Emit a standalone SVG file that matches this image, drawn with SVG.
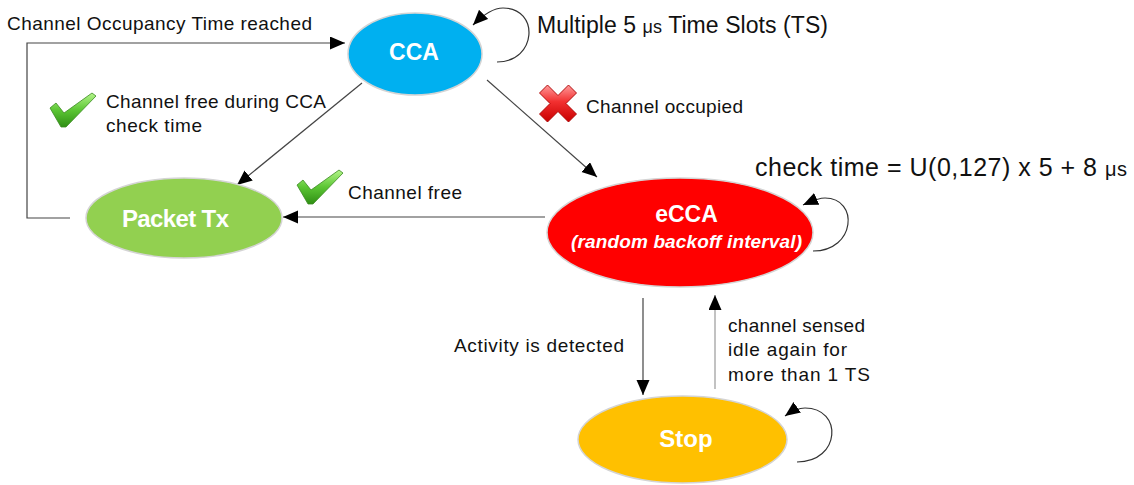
<svg xmlns="http://www.w3.org/2000/svg" xmlns:xlink="http://www.w3.org/1999/xlink" width="1134" height="485" viewBox="0 0 1134 485">
<style>
.lbl{font-family:"Liberation Sans",Arial,sans-serif;font-size:19px;fill:#111}
.big{font-family:"Liberation Sans",Arial,sans-serif;fill:#111}
.node{stroke:#d4d4d4;stroke-width:1.5}
.ntxt{font-family:"Liberation Sans",Arial,sans-serif;font-weight:bold;fill:#fff;text-anchor:middle}
.edge{fill:none;stroke:#444;stroke-width:1.2}
.loop{fill:none;stroke:#333;stroke-width:1.2}
</style>
<defs>
<marker id="arr" markerUnits="userSpaceOnUse" markerWidth="16" markerHeight="14" refX="15" refY="6.5" orient="auto">
<path d="M0,0 L15,6.5 L0,13 Z" fill="#000"/>
</marker>
<linearGradient id="gChk" x1="0" y1="0" x2="0" y2="1">
<stop offset="0" stop-color="#b4f58a"/>
<stop offset="0.5" stop-color="#5cc634"/>
<stop offset="1" stop-color="#2f8f14"/>
</linearGradient>
<linearGradient id="gX" x1="0" y1="0" x2="0" y2="1">
<stop offset="0" stop-color="#ff9a9a"/>
<stop offset="0.45" stop-color="#f23030"/>
<stop offset="1" stop-color="#c80000"/>
</linearGradient>
<path id="chk" d="M0,15 L6,10 L14,20 L42,0 L46,3 L16,34 L11,34 Z" fill="url(#gChk)" stroke="#3b8a22" stroke-width="0.8" stroke-linejoin="round"/>
</defs>

<g id="connectors">
<polyline class="edge" points="70,218 27,218 27,43 345,43" marker-end="url(#arr)"/>
<line class="edge" x1="362" y1="83" x2="237" y2="185" marker-end="url(#arr)"/>
<line class="edge" x1="487" y1="80" x2="597" y2="177" marker-end="url(#arr)"/>
<line class="edge" x1="545" y1="217" x2="283" y2="217" marker-end="url(#arr)"/>
<line class="edge" x1="643" y1="298" x2="643" y2="395" stroke="#222" marker-end="url(#arr)"/>
<line class="edge" x1="715" y1="389" x2="715" y2="295" style="stroke:#999" marker-end="url(#arr)"/>
<path class="loop" d="M497,62 C537,62 540,8 503,8 C494,8 485,13 473,25" marker-end="url(#arr)"/>
<path class="loop" d="M813,251 C856,251 859,198 825,198 C818,198 812,201 803,205" marker-end="url(#arr)"/>
<path class="loop" d="M797,462 C841,462 843,408 805,408 C798,408 792,411 785,416" marker-end="url(#arr)"/>
</g>

<g id="node-cca">
<ellipse class="node" cx="415" cy="54" rx="67" ry="41" fill="#00b0f0"/>
<text class="ntxt" x="414" y="60" font-size="23">CCA</text>
</g>

<g id="node-packettx">
<ellipse class="node" cx="184" cy="218" rx="98" ry="40" fill="#92d050"/>
<text class="ntxt" x="175.5" y="227" font-size="24" textLength="107">Packet Tx</text>
</g>

<g id="node-ecca">
<ellipse class="node" cx="680" cy="232.5" rx="133" ry="54.5" fill="#ff0000"/>
<text class="ntxt" x="686.5" y="222" font-size="23">eCCA</text>
<text class="ntxt" x="686.5" y="248" font-size="19" font-style="italic" textLength="231">(random backoff interval)</text>
</g>

<g id="node-stop">
<ellipse class="node" cx="682.5" cy="439.5" rx="104.5" ry="43.5" fill="#ffc000"/>
<text class="ntxt" x="686" y="447" font-size="24">Stop</text>
</g>

<g id="labels">
<text class="lbl" x="7" y="30" textLength="305">Channel Occupancy Time reached</text>
<text class="big" x="537" y="33" font-size="23" textLength="291">Multiple 5 <tspan font-size="18">μs</tspan> Time Slots (TS)</text>
<use xlink:href="#chk" x="50" y="93"/>
<text class="lbl" x="106" y="108" textLength="220">Channel free during CCA</text>
<text class="lbl" x="106" y="132" textLength="96">check time</text>
<use xlink:href="#chk" x="297" y="170"/>
<text class="lbl" x="348" y="199" textLength="114">Channel free</text>
<path d="M558,95.5 L568.5,85 L576.5,93 L566,103.5 L576.5,114 L568.5,122 L558,111.5 L547.5,122 L539.5,114 L550,103.5 L539.5,93 L547.5,85 Z" fill="url(#gX)" stroke="#a80000" stroke-width="0.9" stroke-linejoin="round"/>
<text class="lbl" x="586" y="113" textLength="157">Channel occupied</text>
<text class="big" x="755" y="176" font-size="25" textLength="372">check time = U(0,127) x 5 + 8 <tspan font-size="20">μs</tspan></text>
<text class="lbl" x="454" y="352" textLength="170">Activity is detected</text>
<text class="lbl" x="728" y="332" textLength="137">channel sensed</text>
<text class="lbl" x="728" y="356" textLength="119">idle again for</text>
<text class="lbl" x="728" y="381" textLength="142">more than 1 TS</text>
</g>
</svg>
